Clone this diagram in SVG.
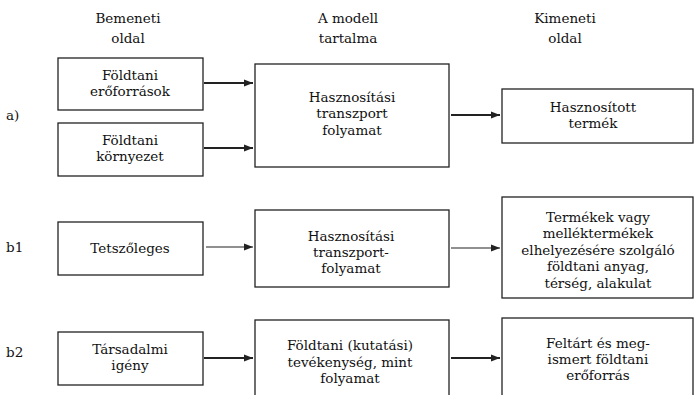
<svg xmlns="http://www.w3.org/2000/svg" width="694" height="395" viewBox="0 0 694 395">
<style>
text{font-family:"DejaVu Serif","Liberation Serif",serif;font-size:13.5px;fill:#111;text-anchor:middle}
.lbl{text-anchor:start}
.box{fill:#fff;stroke:#222;stroke-width:1.3}
.thick{stroke:#222;stroke-width:2;fill:none}
.thin{stroke:#222;stroke-width:1.1;fill:none}
</style>
<defs>
<marker id="ah" viewBox="0 0 10 10" refX="10" refY="5" markerWidth="9" markerHeight="9" markerUnits="userSpaceOnUse" orient="auto">
<path d="M0,1 L10,5 L0,9 z" fill="#222"/>
</marker>
</defs>
<rect width="694" height="395" fill="#fff"/>
<g id="headers">
<text x="128" y="23">Bemeneti</text><text x="128" y="43">oldal</text>
<text x="348" y="23">A modell</text><text x="348" y="43">tartalma</text>
<text x="565" y="23">Kimeneti</text><text x="565" y="43">oldal</text>
</g>
<g id="rowlabels">
<text class="lbl" x="6" y="120">a)</text>
<text class="lbl" x="6" y="252">b1</text>
<text class="lbl" x="6" y="357">b2</text>
</g>
<g id="a_in1"><rect class="box" x="58" y="58" width="145" height="52"/><text x="130" y="80">Földtani</text><text x="130" y="96">erőforrások</text></g>
<g id="a_in2"><rect class="box" x="58" y="123" width="145" height="53"/><text x="130" y="145">Földtani</text><text x="130" y="161">környezet</text></g>
<g id="a_mid"><rect class="box" x="255" y="64" width="194" height="103"/><text x="352" y="102">Hasznosítási</text><text x="352" y="118">transzport</text><text x="352" y="135">folyamat</text></g>
<g id="a_out"><rect class="box" x="502" y="89" width="191" height="54"/><text x="593" y="112">Hasznosított</text><text x="593" y="128">termék</text></g>
<g id="b1_in"><rect class="box" x="58" y="222" width="145" height="53"/><text x="130" y="253">Tetszőleges</text></g>
<g id="b1_mid"><rect class="box" x="255" y="210" width="194" height="77"/><text x="351" y="241">Hasznosítási</text><text x="351" y="257">transzport-</text><text x="351" y="273">folyamat</text></g>
<g id="b1_out"><rect class="box" x="502" y="197" width="191" height="101"/><text x="598" y="222">Termékek vagy</text><text x="598" y="238">melléktermékek</text><text x="598" y="255">elhelyezésére szolgáló</text><text x="598" y="271">földtani anyag,</text><text x="598" y="288">térség, alakulat</text></g>
<g id="b2_in"><rect class="box" x="58" y="332" width="145" height="53"/><text x="130" y="354">Társadalmi</text><text x="130" y="370">igény</text></g>
<g id="b2_mid"><rect class="box" x="255" y="320" width="194" height="85"/><text x="350" y="350">Földtani (kutatási)</text><text x="350" y="367">tevékenység, mint</text><text x="350" y="383">folyamat</text></g>
<g id="b2_out"><rect class="box" x="502" y="318" width="191" height="87"/><text x="598" y="348">Feltárt és meg-</text><text x="598" y="364">ismert földtani</text><text x="598" y="380">erőforrás</text></g>
<g id="connectors">
<line class="thick" x1="204" y1="83" x2="253" y2="83" marker-end="url(#ah)"/>
<line class="thick" x1="204" y1="148" x2="253" y2="148" marker-end="url(#ah)"/>
<line class="thick" x1="451" y1="115" x2="500" y2="115" marker-end="url(#ah)"/>
<line class="thin" x1="206" y1="247" x2="253" y2="247" marker-end="url(#ah)"/>
<line class="thin" x1="451" y1="248" x2="500" y2="248" marker-end="url(#ah)"/>
<line class="thick" x1="204" y1="358" x2="253" y2="358" marker-end="url(#ah)"/>
<line class="thick" x1="451" y1="358" x2="500" y2="358" marker-end="url(#ah)"/>
</g>
</svg>
